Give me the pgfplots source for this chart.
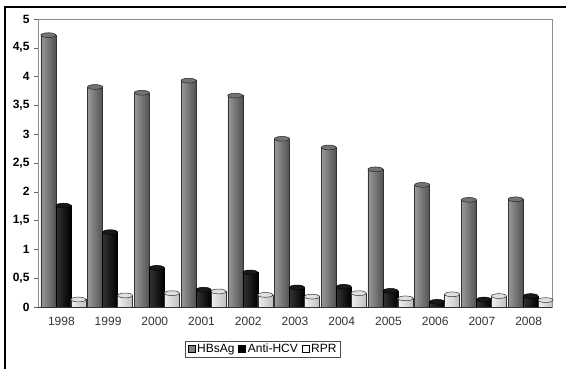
\documentclass[border=0pt]{standalone}
\usepackage{pgfplots}
\pgfplotsset{compat=1.18}
\usepackage{pgfplotstable}
\usepackage{fontspec}
\setmainfont{Liberation Sans}
\pgfplotstableread{
x HBsAg AntiHCV RPR
0 4.72 1.76 0.13
1 3.82 1.30 0.20
2 3.72 0.68 0.24
3 3.93 0.30 0.27
4 3.67 0.60 0.21
5 2.92 0.34 0.18
6 2.77 0.35 0.24
7 2.39 0.28 0.15
8 2.12 0.09 0.22
9 1.86 0.13 0.19
10 1.87 0.19 0.12
}\datatable
\begin{document}
\begin{tikzpicture}[x=1pt,y=1pt]
\useasboundingbox (0,0) rectangle (566,369);
\draw[black, line width=1.2pt] (5,0) -- (5,362) -- (566,362);
\begin{axis}[
  at={(38pt,62pt)}, anchor=south west,
  scale only axis, width=514pt, height=288pt,
  xmin=-0.5, xmax=10.5, ymin=0, ymax=5,
  xtick={0,...,10},
  xticklabels={1998,1999,2000,2001,2002,2003,2004,2005,2006,2007,2008},
  xtick style={draw=none},
  ytick={0,0.5,...,5},
  ytick pos=left, tick align=outside, major tick length=4pt,
  ytick style={black!60},
  axis line style={black!45, line width=0.9pt},
  /pgf/number format/.cd, use comma, fixed, assume math mode=true,
  /pgfplots/.cd,
  yticklabel style={font=\bfseries\fontsize{12}{14}\selectfont, xshift=-1pt},
  xticklabel style={font=\fontsize{12}{14}\selectfont, text=black!80, yshift=-3pt},
  extra y ticks={0}, extra y tick labels={},
  extra y tick style={grid=major, major grid style={black!80, line width=0.9pt}},
  legend style={at={(0.438,-0.146)}, anchor=center, legend columns=3,
    draw=black!70, font=\fontsize{12}{14}\selectfont,
    /tikz/every even column/.append style={column sep=2pt},
    inner xsep=2pt, inner ysep=1pt},
  legend image code/.code={\draw[#1] (0pt,-3.5pt) rectangle (7pt,3.5pt);},
]
\addlegendimage{fill=black!50, draw=black}
\addlegendentry{HBsAg}
\addlegendimage{fill=black, draw=black}
\addlegendentry{Anti-HCV}
\addlegendimage{fill=white, draw=black}
\addlegendentry{RPR}
\pgfplotsinvokeforeach{0,...,10}{
\addplot[ybar, bar width=15pt, bar shift=-13pt, draw=black!80, forget plot,
  restrict x to domain=#1:#1,
  left color=black!40, middle color=black!33, right color=black!68] table[x=x,y=HBsAg] {\datatable};
\addplot[ybar, bar width=15pt, bar shift=2pt, draw=black, forget plot,
  restrict x to domain=#1:#1,
  left color=black!80, middle color=black!95, right color=black] table[x=x,y=AntiHCV] {\datatable};
\addplot[ybar, bar width=15pt, bar shift=17pt, draw=black!80, forget plot,
  restrict x to domain=#1:#1,
  left color=black!6, middle color=white, right color=black!25] table[x=x,y=RPR] {\datatable};
}
\addplot[only marks, mark=*, mark size=7.5pt, forget plot,
  mark options={fill=black!55, draw=black!85, line width=0.5pt, yscale=0.32, xshift=-13pt}]
  table[x=x,y=HBsAg] {\datatable};
\addplot[only marks, mark=*, mark size=7.5pt, forget plot,
  mark options={fill=black!90, draw=black, line width=0.5pt, yscale=0.32, xshift=2pt}]
  table[x=x,y=AntiHCV] {\datatable};
\addplot[only marks, mark=*, mark size=7.5pt, forget plot,
  mark options={fill=black!12, draw=black!80, line width=0.5pt, yscale=0.32, xshift=17pt}]
  table[x=x,y=RPR] {\datatable};
\end{axis}
\end{tikzpicture}
\end{document}
